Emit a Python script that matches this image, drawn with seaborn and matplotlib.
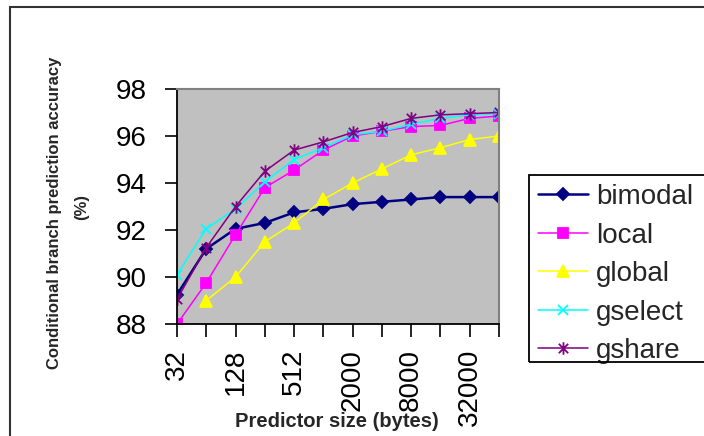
import numpy as np
import pandas as pd
import matplotlib
matplotlib.use("Agg")
import matplotlib.pyplot as plt
from matplotlib.path import Path
from matplotlib.patches import Rectangle
import seaborn as sns

# Predictor budget in bytes (category axis) and accuracy per predictor scheme (%)
sizes = [32, 64, 128, 256, 512, 1000, 2000, 4000, 8000, 16000, 32000, 64000]
shown_labels = ["32", "", "128", "", "512", "", "2000", "", "8000", "", "32000", ""]
bimodal = [89.25, 91.2, 92.05, 92.3, 92.75, 92.9, 93.1, 93.2, 93.3, 93.4, 93.4, 93.4]
local = [88.0, 89.75, 91.8, 93.8, 94.55, 95.4, 96.0, 96.2, 96.4, 96.45, 96.75, 96.85]
global_ = [np.nan, 89.0, 90.0, 91.5, 92.3, 93.3, 94.0, 94.6, 95.2, 95.5, 95.85, 96.0]
gselect = [90.1, 92.05, 92.9, 94.05, 95.0, 95.5, 96.05, 96.2, 96.5, 96.75, 96.9, 96.95]
gshare = [89.05, 91.25, 93.0, 94.5, 95.4, 95.75, 96.15, 96.4, 96.75, 96.9, 96.95, 97.0]

series_names = ["bimodal", "local", "global", "gselect", "gshare"]
series_values = [bimodal, local, global_, gselect, gshare]

rows = []
for name, vals in zip(series_names, series_values):
    for i, (s, v) in enumerate(zip(sizes, vals)):
        rows.append({"series": name, "pos": i, "size": s, "accuracy": v})
df = pd.DataFrame(rows)

sns.set_theme(style="white")
plt.rcParams["font.family"] = ["Liberation Sans", "DejaVu Sans"]

# asterisk marker: an x crossed by a vertical stroke
star = Path(
    [(0, -1), (0, 1), (-0.75, -0.75), (0.75, 0.75), (-0.75, 0.75), (0.75, -0.75)],
    [Path.MOVETO, Path.LINETO, Path.MOVETO, Path.LINETO, Path.MOVETO, Path.LINETO],
)

styles = {
    "bimodal": dict(color="#000080", marker="D", ms=6, lw=1.8),
    "local": dict(color="#FF00FF", marker="s", ms=7.5, lw=1.1),
    "global": dict(color="#FFFF00", marker="^", ms=9, lw=1.1),
    "gselect": dict(color="#00FFFF", marker="x", ms=7, lw=1.1),
    "gshare": dict(color="#800080", marker=star, ms=9, lw=1.1),
}

W, H = 704, 436
fig = plt.figure(figsize=(W / 100, H / 100), dpi=100)
ax = fig.add_axes([177 / W, 1 - 324 / H, (499 - 177) / W, (324 - 89) / H])
ax.set_facecolor("#C0C0C0")

for name in series_names:
    st = styles[name]
    sub = df[df["series"] == name].dropna(subset=["accuracy"])
    sns.lineplot(
        data=sub, x="pos", y="accuracy", ax=ax, label=name,
        color=st["color"], marker=st["marker"], markersize=st["ms"],
        linewidth=st["lw"], markeredgecolor=st["color"],
        markerfacecolor=st["color"], markeredgewidth=1.3,
        estimator=None, errorbar=None, sort=False,
    )

ax.set_xlim(0, len(sizes) - 1)
ax.set_ylim(88, 98)
ax.set_yticks([88, 90, 92, 94, 96, 98])
ax.set_xticks(range(len(sizes)))
ax.set_xticklabels(shown_labels, rotation=90, fontsize=20)
ax.tick_params(axis="y", labelsize=20, length=9, width=1.2, direction="out", pad=13, colors="black")
ax.tick_params(axis="x", length=9, width=1.2, direction="out", pad=9, colors="black")
ax.tick_params(axis="both", left=True, bottom=True)
ax.set_xlabel("")
ax.set_ylabel("")

for side in ["left", "bottom"]:
    ax.spines[side].set_color("black")
    ax.spines[side].set_linewidth(1.3)
for side in ["top", "right"]:
    ax.spines[side].set_color("#808080")
    ax.spines[side].set_linewidth(1.5)

# axis titles
fig.text(55 / W, 1 - 213 / H, "Conditional branch prediction accuracy",
         rotation=90, ha="center", va="center", fontsize=12, fontweight="bold")
fig.text(82 / W, 1 - 207 / H, "(%)",
         rotation=90, ha="center", va="center", fontsize=12, fontweight="bold")
fig.text(337 / W, 1 - 421 / H, "Predictor size (bytes)",
         ha="center", va="center", fontsize=14.5, fontweight="bold")

# legend entries, with a separate box that runs off the right edge
leg = ax.legend(
    loc="upper left",
    bbox_to_anchor=(538 / W, 1 - 184 / H),
    bbox_transform=fig.transFigure,
    fontsize=20, frameon=False, handlelength=1.8, handletextpad=0.3,
    labelspacing=0.45, borderpad=0, borderaxespad=0,
)
fig.patches.append(Rectangle((529 / W, 1 - 362 / H), 0.4, (362 - 175) / H,
                             transform=fig.transFigure, fill=False,
                             edgecolor="black", linewidth=1.3))

# outer chart border
fig.patches.append(Rectangle((10 / W, -0.2), 1.2, 1.2 - 7 / H,
                             transform=fig.transFigure, fill=False,
                             edgecolor="#333333", linewidth=1.5))

fig.savefig("out.png", dpi=100, facecolor="white")
